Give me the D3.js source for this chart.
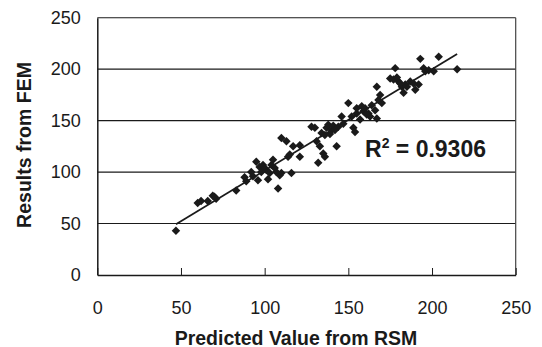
<!DOCTYPE html>
<html>
<head>
<meta charset="utf-8">
<script src="https://cdn.jsdelivr.net/npm/d3@7"></script>
<style>
  html, body { margin: 0; padding: 0; background: #fff; }
  svg { display: block; font-family: "Liberation Sans", Arial, sans-serif; }
</style>
</head>
<body>
<svg id="chart" width="542" height="347"></svg>
<script>
// ---- data ----
const predicted = [47, 60, 62, 66, 69, 71, 70, 83, 88, 89, 92, 95, 96, 97, 99, 101, 102, 103, 105, 106,
  108, 109, 110, 113, 114, 110, 116, 117, 121, 121, 115, 128, 130, 131, 132, 133, 134, 135, 136, 137,
  138, 140, 143, 144, 146, 147, 150, 152, 153, 154, 155, 155, 158, 159, 162, 163, 166, 167, 168, 169,
  167, 170, 175, 178, 177, 180, 182, 183, 184, 187, 189, 190, 192, 193, 195, 196, 198, 201, 204, 215,
  98, 100, 104, 107, 93, 139, 141, 136, 142, 157, 160, 164, 161, 181, 185, 179];
const fem = [43, 70, 72, 72, 77, 74, 76, 82, 95, 91, 100, 110, 92, 105, 107, 102, 93, 99, 112, 104,
  84, 97, 133, 130, 115, 99, 99, 125, 126, 115, 117, 144, 143, 130, 109, 125, 138, 118, 115, 143,
  146, 141, 125, 144, 154, 147, 167, 154, 143, 139, 157, 162, 164, 159, 157, 154, 160, 152, 170, 175,
  183, 167, 191, 201, 190, 188, 183, 177, 185, 188, 186, 180, 185, 210, 201, 198, 199, 198, 212, 200,
  100, 104, 107, 100, 96, 137, 145, 136, 141, 151, 162, 165, 156, 186, 183, 192];
const xTicks = [0, 50, 100, 150, 200, 250];
const yTicks = [0, 50, 100, 150, 200, 250];
const xTitle = "Predicted Value from RSM";
const yTitle = "Results from FEM";
const r2Label = "0.9306";

// ---- layout ----
const W = 542, H = 347;
const m = { left: 97.3, right: 26.3, top: 17.7, bottom: 72 };
const iw = W - m.left - m.right, ih = H - m.top - m.bottom;

const svg = d3.select("#chart");
const g = svg.append("g").attr("transform", `translate(${m.left},${m.top})`);

const x = d3.scaleLinear().domain([0, 250]).range([0, iw]);
const y = d3.scaleLinear().domain([0, 250]).range([ih, 0]);

const ink = "#1a1a1a";

// gridlines
g.append("g").selectAll("line").data(yTicks.filter(d => d > 0)).join("line")
  .attr("x1", 0).attr("x2", iw)
  .attr("y1", d => y(d)).attr("y2", d => y(d))
  .attr("stroke", ink).attr("stroke-width", 1.1);

// right border
g.append("line").attr("x1", iw).attr("x2", iw).attr("y1", 0).attr("y2", ih)
  .attr("stroke", "#444").attr("stroke-width", 1.2);

// x axis (ticks pointing inside)
const xAxis = g.append("g").attr("transform", `translate(0,${ih})`)
  .call(d3.axisBottom(x).tickValues(xTicks).tickSize(-7).tickSizeOuter(0).tickPadding(26));
xAxis.select(".domain").attr("stroke", ink).attr("stroke-width", 1.5);
xAxis.selectAll(".tick line").attr("stroke", ink).attr("stroke-width", 1);
xAxis.selectAll(".tick text").attr("font-size", 18).attr("fill", ink)
  .attr("font-family", "Liberation Sans, Arial, sans-serif");

// y axis
const yAxis = g.append("g")
  .call(d3.axisLeft(y).tickValues(yTicks).tickSize(0).tickPadding(16.5));
yAxis.select(".domain").attr("stroke", ink).attr("stroke-width", 1.5);
yAxis.selectAll(".tick text").attr("font-size", 18).attr("fill", ink)
  .attr("font-family", "Liberation Sans, Arial, sans-serif");

// points (diamonds)
const pts = predicted.map((p, i) => [p, fem[i]]);
const sym = d3.symbol(d3.symbolSquare, 36);
g.append("g").selectAll("path").data(pts).join("path")
  .attr("d", sym)
  .attr("transform", d => `translate(${x(d[0])},${y(d[1])}) rotate(45)`)
  .attr("fill", ink);

// linear trend line (least squares on the points)
const n = pts.length;
const mx = d3.mean(predicted), my = d3.mean(fem);
const sxy = d3.sum(pts, d => (d[0] - mx) * (d[1] - my));
const sxx = d3.sum(pts, d => (d[0] - mx) ** 2);
const slope = sxy / sxx, icpt = my - slope * mx;
const [x0, x1] = d3.extent(predicted);
g.append("line")
  .attr("x1", x(x0)).attr("y1", y(icpt + slope * x0))
  .attr("x2", x(x1)).attr("y2", y(icpt + slope * x1))
  .attr("stroke", ink).attr("stroke-width", 1.8);

// R² label
const r2 = svg.append("text").attr("x", 365).attr("y", 156.7)
  .attr("font-size", 23).attr("font-weight", "bold").attr("fill", ink);
r2.append("tspan").text("R");
r2.append("tspan").attr("font-size", 14).attr("dy", -9).text("2");
r2.append("tspan").attr("dy", 9).text(" = " + r2Label);

// axis titles
svg.append("text").attr("x", 296).attr("y", 344.5).attr("text-anchor", "middle")
  .attr("font-size", 19.5).attr("font-weight", "bold").attr("fill", ink).text(xTitle);
svg.append("text").attr("transform", "translate(30.5,145) rotate(-90)").attr("text-anchor", "middle")
  .attr("font-size", 19.5).attr("font-weight", "bold").attr("fill", ink).text(yTitle);
</script>
</body>
</html>
